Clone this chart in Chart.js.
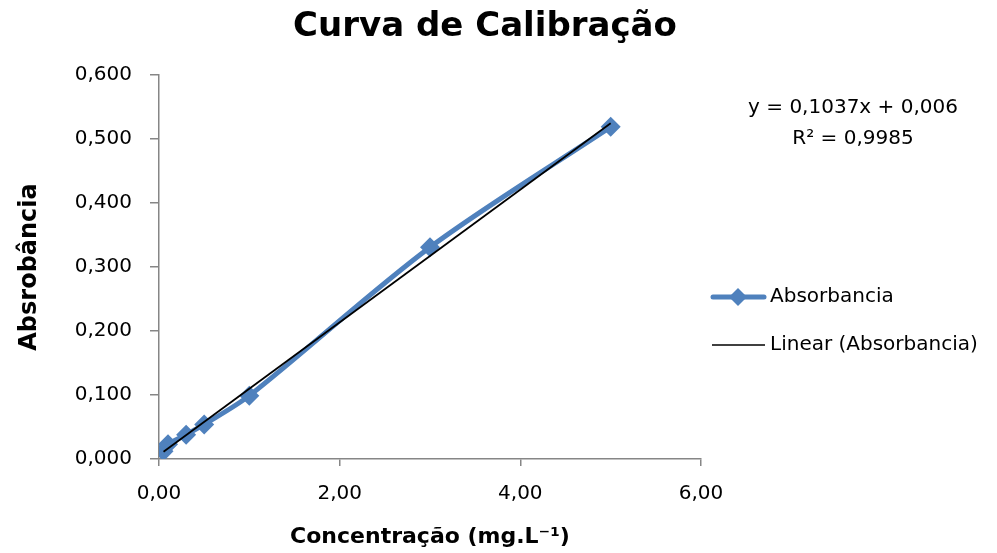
<!DOCTYPE html>
<html>
<head>
<meta charset="utf-8">
<script src="https://cdn.jsdelivr.net/npm/chart.js@4"></script>
<style>
  html, body { margin: 0; padding: 0; background: #fff; }
  #wrap { width: 997px; height: 553px; }
</style>
</head>
<body>
<div id="wrap"><canvas id="calib_chart"></canvas></div>
<script>
// concentrations (mg/L) and measured absorbance
var concentrations = [0.05, 0.1, 0.3, 0.5, 1.0, 3.0, 5.0];
var absorbances = [0.012, 0.023, 0.038, 0.054, 0.099, 0.331, 0.519];
// trendline as reported on the chart
var trendSlope = 0.1037;
var trendIntercept = 0.006;
var trendLabel = ["y = 0,1037x + 0,006", "R² = 0,9985"];
var yTicks = [0, 0.1, 0.2, 0.3, 0.4, 0.5, 0.6];
var xTicks = [0, 2, 4, 6];

var fontName = "'DejaVu Sans', sans-serif";
var blue = '#4F81BD';

var seriesPoints = [];
for (var i = 0; i < concentrations.length; i++) {
    seriesPoints.push({x: concentrations[i], y: absorbances[i]});
}
var xFirst = concentrations[0];
var xLast = concentrations[concentrations.length - 1];
var trendPoints = [
    {x: xFirst, y: trendSlope * xFirst + trendIntercept},
    {x: xLast, y: trendSlope * xLast + trendIntercept}
];

function commaNumber(v, digits) {
    return v.toFixed(digits).replace('.', ',');
}

// title, equation and legend drawn by hand so they sit where Excel put them
var sidePanel = {
    id: 'sidePanel',
    afterDraw: function (chart) {
        var ctx = chart.ctx;
        ctx.save();
        ctx.fillStyle = '#000';
        ctx.font = 'bold 34px ' + fontName;
        ctx.textAlign = 'center';
        ctx.textBaseline = 'alphabetic';
        ctx.fillText('Curva de Calibração', 485, 36);

        ctx.font = '20px ' + fontName;
        ctx.textBaseline = 'middle';
        ctx.fillText(trendLabel[0], 853, 108);
        ctx.fillText(trendLabel[1], 853, 139);

        // legend entry 1: blue line with diamond
        ctx.strokeStyle = blue;
        ctx.lineWidth = 5;
        ctx.lineCap = 'round';
        ctx.beginPath();
        ctx.moveTo(713, 297);
        ctx.lineTo(764, 297);
        ctx.stroke();
        ctx.fillStyle = blue;
        ctx.beginPath();
        ctx.moveTo(738, 288);
        ctx.lineTo(747, 297);
        ctx.lineTo(738, 306);
        ctx.lineTo(729, 297);
        ctx.closePath();
        ctx.fill();

        // legend entry 2: black thin line
        ctx.strokeStyle = '#000';
        ctx.lineWidth = 1.5;
        ctx.lineCap = 'butt';
        ctx.beginPath();
        ctx.moveTo(712, 345);
        ctx.lineTo(765, 345);
        ctx.stroke();

        ctx.fillStyle = '#000';
        ctx.textAlign = 'left';
        ctx.fillText('Absorbancia', 770, 297);
        ctx.fillText('Linear (Absorbancia)', 770, 345);
        ctx.restore();
    }
};

var ctx = document.getElementById('calib_chart').getContext('2d');
var chart = new Chart(ctx, {
    type: 'scatter',
    data: {
        datasets: [{
            label: 'Absorbancia',
            data: seriesPoints,
            showLine: true,
            borderColor: blue,
            backgroundColor: blue,
            borderWidth: 5,
            tension: 0.3,
            pointStyle: 'rectRot',
            pointRadius: 10,
            pointHoverRadius: 10,
            pointBorderWidth: 0,
            order: 2
        }, {
            label: 'Linear (Absorbancia)',
            data: trendPoints,
            showLine: true,
            borderColor: '#000',
            borderWidth: 1.8,
            pointRadius: 0,
            pointHoverRadius: 0,
            order: 1
        }]
    },
    options: {
        responsive: true,
        maintainAspectRatio: false,
        animation: false,
        events: [],
        layout: {padding: {left: 0, right: 296, top: 75, bottom: 0}},
        plugins: {
            legend: {display: false},
            tooltip: {enabled: false},
            title: {display: false}
        },
        scales: {
            x: {
                type: 'linear',
                min: 0,
                max: 6,
                afterBuildTicks: function (scale) {
                    scale.ticks = xTicks.map(function (v) { return {value: v}; });
                },
                afterFit: function (scale) { scale.height = 94; },
                ticks: {
                    color: '#000',
                    font: {family: fontName, size: 20},
                    padding: 16,
                    maxRotation: 0,
                    callback: function (v) { return commaNumber(v, 2); }
                },
                grid: {drawOnChartArea: false, color: '#868686', tickLength: 7, lineWidth: 1.5},
                border: {color: '#868686', width: 1.5},
                title: {
                    display: true,
                    text: 'Concentração (mg.L⁻¹)',
                    color: '#000',
                    font: {family: fontName, size: 22, weight: 'bold'},
                    padding: {top: 0, bottom: 3}
                }
            },
            y: {
                type: 'linear',
                min: 0,
                max: 0.6,
                afterBuildTicks: function (scale) {
                    scale.ticks = yTicks.map(function (v) { return {value: v}; });
                },
                afterFit: function (scale) { scale.width = 159; },
                ticks: {
                    color: '#000',
                    font: {family: fontName, size: 20},
                    padding: 18,
                    callback: function (v) { return commaNumber(v, 3); }
                },
                grid: {drawOnChartArea: false, color: '#868686', tickLength: 9, lineWidth: 1.5},
                border: {color: '#868686', width: 1.5},
                title: {
                    display: true,
                    text: 'Absrobância',
                    color: '#000',
                    font: {family: fontName, size: 24, weight: 'bold'},
                    padding: {top: 15, bottom: 0}
                }
            }
        }
    },
    plugins: [sidePanel]
});
</script>
</body>
</html>
